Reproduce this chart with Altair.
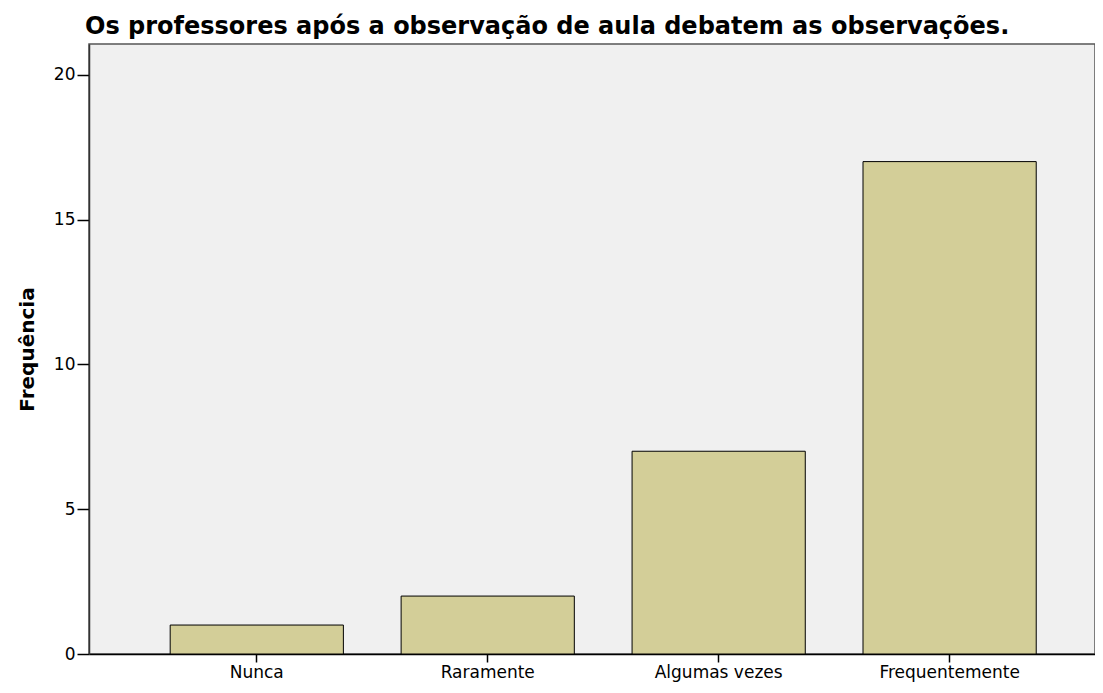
import altair as alt
import pandas as pd

categories = ["Nunca", "Raramente", "Algumas vezes", "Frequentemente"]
values = [1, 2, 7, 17]
y_ticks = [0, 5, 10, 15, 20]
title_text = "Os professores após a observação de aula debatem as observações."
y_title = "Frequência"

df = pd.DataFrame({"cat": categories, "freq": values})

chart = alt.Chart(df).mark_bar(
    fill="#d3ce98", stroke="#000000", strokeWidth=1
).encode(
    x=alt.X("cat:N", sort=categories,
            scale=alt.Scale(paddingInner=0.25, paddingOuter=0.303, align=0.58),
            axis=alt.Axis(title=None, labelAngle=0, labelFont="DejaVu Sans",
                          labelFontSize=17, labelColor="#000", tickSize=8,
                          labelPadding=2, domainColor="#000", tickColor="#000",
                          domainWidth=1.5, tickWidth=1.5)),
    y=alt.Y("freq:Q", scale=alt.Scale(domain=[0, 21.06], nice=False, zero=True),
            axis=alt.Axis(title=y_title, values=y_ticks, grid=False, tickSize=12,
                          labelPadding=2, labelFont="DejaVu Sans", labelFontSize=17,
                          labelColor="#000", domainColor="#333", tickColor="#000",
                          domainWidth=1.5, tickWidth=1.5,
                          titleFont="DejaVu Sans", titleFontWeight="bold",
                          titleFontSize=20, titleColor="#000", titlePadding=16)),
).properties(
    width=1006, height=610,
    title=alt.TitleParams(title_text, font="DejaVu Sans", fontWeight="bold",
                          fontSize=24, color="#000", anchor="start", frame="group",
                          offset=5, dx=-4),
    autosize=alt.AutoSizeParams(type="none"),
    padding={"left": 81, "top": 36, "right": 0, "bottom": 29},
).configure(
    background="#ffffff"
).configure_view(
    fill="#f0f0f0", stroke="#555", strokeWidth=1.5
)

chart.save("out.html", embed_options={"renderer": "svg", "actions": False})
